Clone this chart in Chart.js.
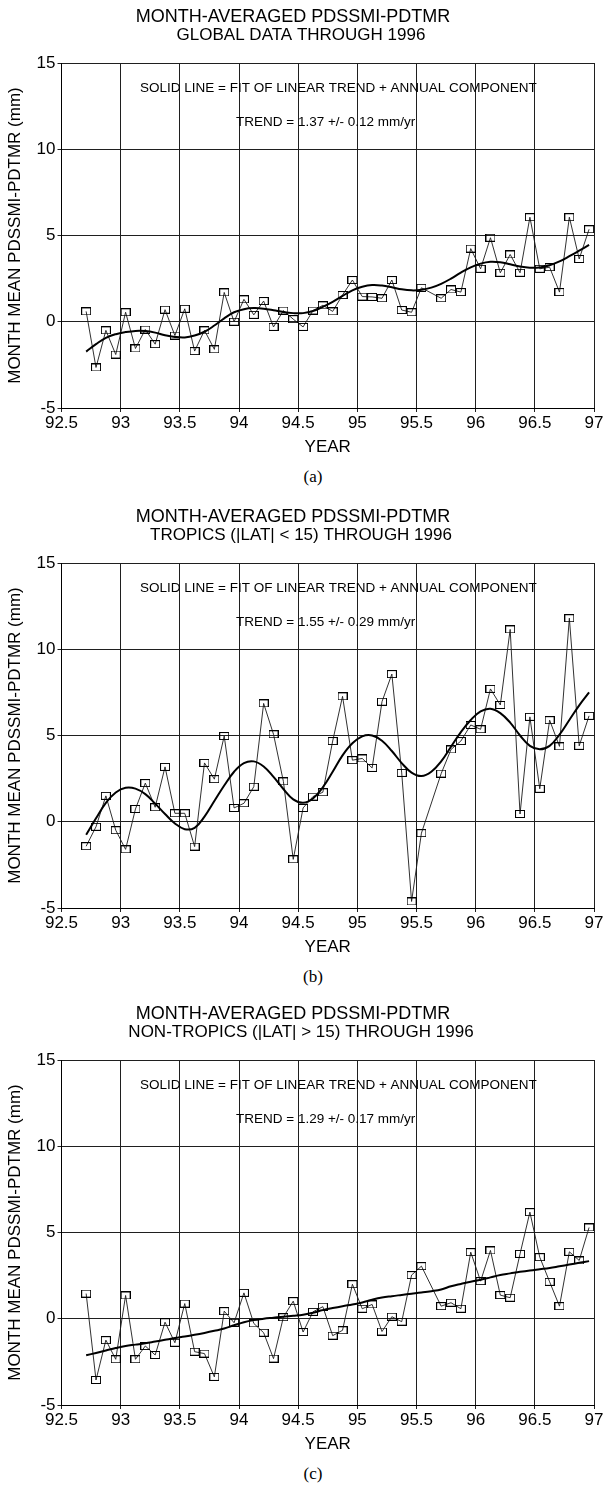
<!DOCTYPE html>
<html>
<head>
<meta charset="utf-8">
<script src="https://cdn.jsdelivr.net/npm/chart.js@4.4.1/dist/chart.umd.min.js"></script>
<style>
  html, body { margin: 0; padding: 0; background: #fff; }
  body { width: 607px; height: 1491px; position: relative; overflow: hidden; }
  canvas { position: absolute; left: 0; }
  .cap { position: absolute; left: 0; width: 626px; text-align: center;
         font: 17px "Liberation Serif", "Times New Roman", serif; color: #000; line-height: 20px; }
</style>
</head>
<body>
<canvas id="panelA" width="607" height="458" style="top:0px"></canvas>
<div class="cap" style="top:467px">(a)</div>
<canvas id="panelB" width="607" height="458" style="top:500px"></canvas>
<div class="cap" style="top:967px">(b)</div>
<canvas id="panelC" width="607" height="458" style="top:997px"></canvas>
<div class="cap" style="top:1464px">(c)</div>

<script>
// Monthly samples, Sep 1992 – Dec 1996 (no retrievals for Aug 1995)
const months = [
  '1992-09','1992-10','1992-11','1992-12',
  '1993-01','1993-02','1993-03','1993-04','1993-05','1993-06','1993-07','1993-08','1993-09','1993-10','1993-11','1993-12',
  '1994-01','1994-02','1994-03','1994-04','1994-05','1994-06','1994-07','1994-08','1994-09','1994-10','1994-11','1994-12',
  '1995-01','1995-02','1995-03','1995-04','1995-05','1995-06','1995-07','1995-08','1995-09','1995-10','1995-11','1995-12',
  '1996-01','1996-02','1996-03','1996-04','1996-05','1996-06','1996-07','1996-08','1996-09','1996-10','1996-11','1996-12'
];

// Month-averaged PDSSMI - PDTMR differences (mm)
const globalValues = [0.6,-2.65,-0.5,-1.9,0.55,-1.55,-0.45,-1.3,0.7,-0.8,0.75,-1.7,-0.5,-1.6,1.7,0.0,1.3,0.4,1.2,-0.3,
  0.65,0.15,-0.3,0.65,0.95,0.6,1.55,2.42,1.46,1.44,1.36,2.42,0.68,0.55,1.97,null,1.36,1.87,1.72,4.24,
  3.07,4.87,2.84,3.9,2.84,6.06,3.07,3.16,1.72,6.06,3.64,5.36];
const tropicsValues = [-1.42,-0.29,1.5,-0.49,-1.6,0.74,2.24,0.84,3.18,0.49,0.49,-1.44,3.41,2.47,4.97,0.8,1.07,2.03,6.86,5.07,
  2.34,-2.18,0.8,1.46,1.71,4.68,7.27,3.57,3.67,3.12,6.96,8.56,2.83,-4.62,-0.66,null,2.79,4.19,4.68,5.61,
  5.36,7.7,6.77,11.15,0.45,6.08,1.91,5.89,4.37,11.8,4.4,6.14];
const nonTropicsValues = [1.46,-3.55,-1.24,-2.35,1.35,-2.35,-1.58,-2.1,-0.2,-1.39,0.88,-1.91,-2.02,-3.37,0.44,-0.23,1.5,-0.27,-0.81,-2.31,
  0.09,1.02,-0.77,0.4,0.7,-0.98,-0.67,2.0,0.58,0.83,-0.74,0.12,-0.17,2.53,3.05,null,0.73,0.93,0.58,3.86,
  2.18,3.96,1.37,1.22,3.76,6.18,3.57,2.14,0.73,3.88,3.38,5.29];

// Fitted linear trend + annual component, sampled monthly (mm)
const globalFit = [-1.73,-1.3,-0.93,-0.72,-0.6,-0.53,-0.54,-0.63,-0.78,-0.88,-0.91,-0.8,-0.58,-0.22,0.2,0.55,0.73,0.79,0.76,0.67,
  0.56,0.5,0.5,0.62,0.86,1.15,1.5,1.82,2.03,2.13,2.1,2.0,1.88,1.82,1.85,1.98,2.2,2.5,2.85,3.15,
  3.37,3.48,3.45,3.33,3.2,3.13,3.15,3.28,3.5,3.8,4.12,4.45];
const tropicsFit = [-0.75,0.2,1.1,1.7,1.97,1.92,1.6,1.05,0.45,-0.1,-0.43,-0.35,0.3,1.2,2.1,2.9,3.4,3.5,3.2,2.6,
  1.9,1.3,1.1,1.35,2.0,2.9,3.85,4.55,4.95,5.0,4.7,4.1,3.4,2.85,2.65,2.9,3.5,4.35,5.2,5.9,
  6.4,6.55,6.3,5.75,5.0,4.4,4.2,4.4,5.05,5.9,6.75,7.5];
const nonTropicsFit = [-2.12,-1.98,-1.84,-1.7,-1.58,-1.5,-1.42,-1.32,-1.22,-1.12,-1.03,-0.93,-0.82,-0.7,-0.57,-0.38,-0.2,-0.08,0.0,0.06,
  0.12,0.17,0.23,0.35,0.5,0.62,0.73,0.83,0.94,1.1,1.23,1.31,1.38,1.45,1.52,1.6,1.7,1.88,2.02,2.15,
  2.26,2.4,2.54,2.63,2.72,2.8,2.87,2.94,3.04,3.14,3.24,3.34];

// Axis ticks
const yearTicks = [92.5, 93, 93.5, 94, 94.5, 95, 95.5, 96, 96.5, 97];
const valueTicks = [-5, 0, 5, 10, 15];

const titleText = 'MONTH-AVERAGED PDSSMI-PDTMR';
const subtitles = ['GLOBAL DATA THROUGH 1996', 'TROPICS (|LAT| < 15) THROUGH 1996', 'NON-TROPICS (|LAT| > 15) THROUGH 1996'];
const fitNote = 'SOLID LINE = FIT OF LINEAR TREND + ANNUAL COMPONENT';
const trendTexts = ['TREND = 1.37 +/- 0.12 mm/yr', 'TREND = 1.55 +/- 0.29 mm/yr', 'TREND = 1.29 +/- 0.17 mm/yr'];

const SANS = '"Liberation Sans", Arial, Helvetica, sans-serif';

function decimalYear(label) {
  const [y, m] = label.split('-').map(Number);
  return (y - 1900) + (m - 0.5) / 12;
}

function toPoints(values) {
  const pts = [];
  values.forEach((v, i) => { if (v !== null) pts.push({ x: decimalYear(months[i]), y: v }); });
  return pts;
}

// Hollow open-square marker
function squareMarker() {
  const c = document.createElement('canvas');
  c.width = 10; c.height = 8;
  const g = c.getContext('2d');
  g.strokeStyle = '#000';
  g.lineWidth = 1;
  g.strokeRect(0.5, 0.5, 9, 7);
  return c;
}
const marker = squareMarker();

const panelText = {
  id: 'panelText',
  beforeDatasetsDraw(chart, args, opts) {
    const ctx = chart.ctx;
    ctx.save();
    ctx.fillStyle = '#000';
    ctx.textBaseline = 'middle';
    ctx.textAlign = 'center';
    ctx.font = '18px ' + SANS;
    ctx.fillText(titleText, 293, 17);
    ctx.font = '17px ' + SANS;
    ctx.fillText(opts.subtitle, 301, 35);
    ctx.textAlign = 'left';
    ctx.font = '13.5px ' + SANS;
    ctx.fillText(fitNote, 140, 88);
    ctx.fillText(opts.trend, 236, 122);
    ctx.restore();
  }
};

function makePanel(id, k, values, fit) {
  const tickFont = { family: SANS, size: 17 };
  new Chart(document.getElementById(id), {
    type: 'scatter',
    data: {
      datasets: [
        {
          data: toPoints(fit),
          showLine: true,
          borderColor: '#000',
          borderWidth: 2,
          pointRadius: 0,
          tension: 0.4,
          fill: false
        },
        {
          data: toPoints(values),
          showLine: true,
          borderColor: '#1a1a1a',
          borderWidth: 0.9,
          pointStyle: marker,
          pointRadius: 4,
          tension: 0,
          fill: false
        }
      ]
    },
    options: {
      responsive: false,
      animation: false,
      devicePixelRatio: 1,
      events: [],
      layout: { padding: { top: 63, right: 13, left: 0, bottom: 0 } },
      plugins: {
        legend: { display: false },
        tooltip: { enabled: false },
        title: { display: false },
        panelText: { subtitle: subtitles[k], trend: trendTexts[k] }
      },
      scales: {
        x: {
          type: 'linear',
          min: yearTicks[0],
          max: yearTicks[yearTicks.length - 1],
          afterBuildTicks: s => { s.ticks = yearTicks.map(v => ({ value: v })); },
          ticks: { autoSkip: false, maxRotation: 0, font: tickFont, color: '#000', padding: 1,
                   callback: v => String(v) },
          grid: { color: '#1f1f1f', lineWidth: 1, drawTicks: true, tickLength: 4 },
          border: { color: '#000', width: 1 },
          title: { display: true, text: 'YEAR', font: { family: SANS, size: 17 }, color: '#000',
                   padding: { top: 0, bottom: 0 } },
          afterFit: s => { s.height = 50; }
        },
        y: {
          type: 'linear',
          min: valueTicks[0],
          max: valueTicks[valueTicks.length - 1],
          afterBuildTicks: s => { s.ticks = valueTicks.map(v => ({ value: v })); },
          ticks: { font: tickFont, color: '#000', padding: 2, callback: v => String(v) },
          grid: { color: '#1f1f1f', lineWidth: 1, drawTicks: true, tickLength: 4 },
          border: { color: '#000', width: 1 },
          title: { display: true, text: 'MONTH MEAN PDSSMI-PDTMR (mm)', font: { family: SANS, size: 17 },
                   color: '#000', padding: { top: 5, bottom: 0 } },
          afterFit: s => { s.width = 61.5; }
        }
      }
    },
    plugins: [panelText]
  });
}

makePanel('panelA', 0, globalValues, globalFit);
makePanel('panelB', 1, tropicsValues, tropicsFit);
makePanel('panelC', 2, nonTropicsValues, nonTropicsFit);
</script>
</body>
</html>
